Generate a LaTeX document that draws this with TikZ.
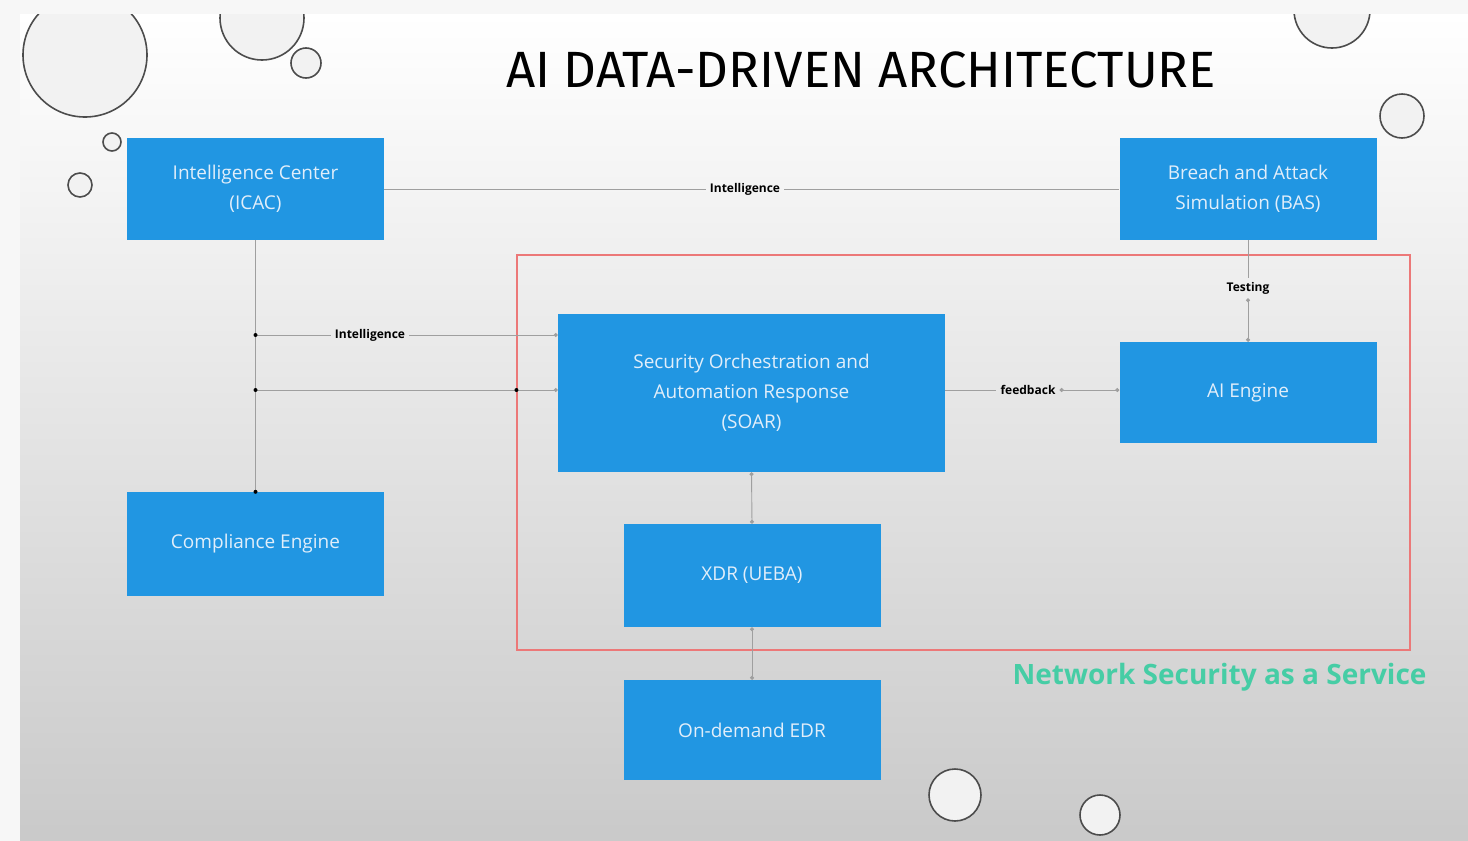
\documentclass[tikz,border=0pt]{standalone}
\usepackage{fontspec}
\setmainfont{Open Sans}
\newfontfamily\titlefont{Fira Sans}
\usetikzlibrary{arrows.meta}
\definecolor{boxblue}{RGB}{33,150,226}
\definecolor{boxtext}{RGB}{225,238,250}
\definecolor{nsgreen}{RGB}{70,205,165}
\definecolor{framered}{RGB}{236,120,120}
\begin{document}
\begin{tikzpicture}[x=1pt,y=-1pt,
  box/.style={fill=boxblue, text=boxtext, align=center, inner sep=0pt,
    minimum width=257, minimum height=102, font=\fontsize{19}{30}\selectfont},
  conn/.style={draw=gray!75, line width=0.9pt},
  tipdot/.style={-{Circle[length=4pt]}},
  lbl/.style={font=\bfseries\fontsize{12}{12}\selectfont, inner sep=4pt},
  dot/.style={circle, fill=black, inner sep=0pt, minimum size=4pt},
  drop/.style={draw=gray!60!black, line width=1.6pt, fill=gray!10}]
\useasboundingbox (0,0) rectangle (1468,841);
\fill[gray!6] (0,0) rectangle (1468,841);
\shade[top color=white, bottom color=gray!42] (20,14) rectangle (1468,841);
% water drops
\begin{scope}
\clip (20,14) rectangle (1468,841);
\draw[drop] (85,55) circle (62);
\draw[drop] (262,18) circle (42);
\draw[drop] (306,63) circle (15);
\draw[drop] (112,142) circle (9);
\draw[drop] (80,185) circle (12);
\draw[drop] (1332,10) circle (38);
\draw[drop] (1402,116) circle (22);
\draw[drop] (955,795) circle (26);
\draw[drop] (1100,815) circle (20);
\end{scope}
% title
\node[font=\titlefont\fontsize{51}{56}\selectfont] (title) at (861,70) {AI DATA-DRIVEN ARCHITECTURE};
% frame
\node[draw=framered, line width=1.1pt, minimum width=893, minimum height=395, inner sep=0pt] (frame) at (963.5,452.5) {};
% boxes
\node[box] (ic) at (255.5,189) {Intelligence Center\\(ICAC)};
\node[box] (bas) at (1248,189) {Breach and Attack\\Simulation (BAS)};
\node[box, minimum width=387, minimum height=158] (soar) at (751.5,393) {Security Orchestration and\\Automation Response\\(SOAR)};
\node[box, minimum height=101] (ai) at (1248,392.5) {AI Engine};
\node[box, minimum height=104] (ce) at (255.5,544) {Compliance Engine};
\node[box, minimum height=103] (xdr) at (752,575.5) {XDR (UEBA)};
\node[box, minimum height=100] (edr) at (752,730) {On-demand EDR};
% labels
\node[lbl] (l1) at (745,189) {Intelligence};
\node[lbl] (l2) at (370,335) {Intelligence};
\node[lbl] (l3) at (1028,390) {feedback};
\node[lbl] (l4) at (1248,288) {Testing};
% junctions
\coordinate (j1) at (ic.south |- l2);
\coordinate (j2) at (ic.south |- 0,390);
% connectors
\draw[conn] (ic) -- (l1) -- (bas);
\draw[conn] (ic.south) -- (ce.north);
\draw[conn, tipdot] (j1) -- (l2) -- (j1 -| soar.west);
\draw[conn, tipdot] (j2) -- (j2 -| soar.west);
\draw[conn, {Circle[length=4pt]}-{Circle[length=4pt]}] (soar.east |- l3) -- (l3) -- (ai.west |- l3);
\draw[conn, {Circle[length=4pt]}-{Circle[length=4pt]}] (bas.south) -- (l4) -- (ai.north);
\draw[conn, {Circle[length=4pt]}-{Circle[length=4pt]}] (soar.south) -- (xdr.north);
\draw[conn, {Circle[length=4pt]}-{Circle[length=4pt]}] (xdr.south) -- (edr.north);
\node[dot] at (j1) {};
\node[dot] at (j2) {};
\node[dot] at (ic.south |- ce.north) {};
\node[dot] at (frame.west |- j2) {};
% caption
\node[anchor=east, text=nsgreen, font=\bfseries\fontsize{28}{30}\selectfont] (nsaas) at (1430,677) {Network Security as a Service};
\end{tikzpicture}
\end{document}
